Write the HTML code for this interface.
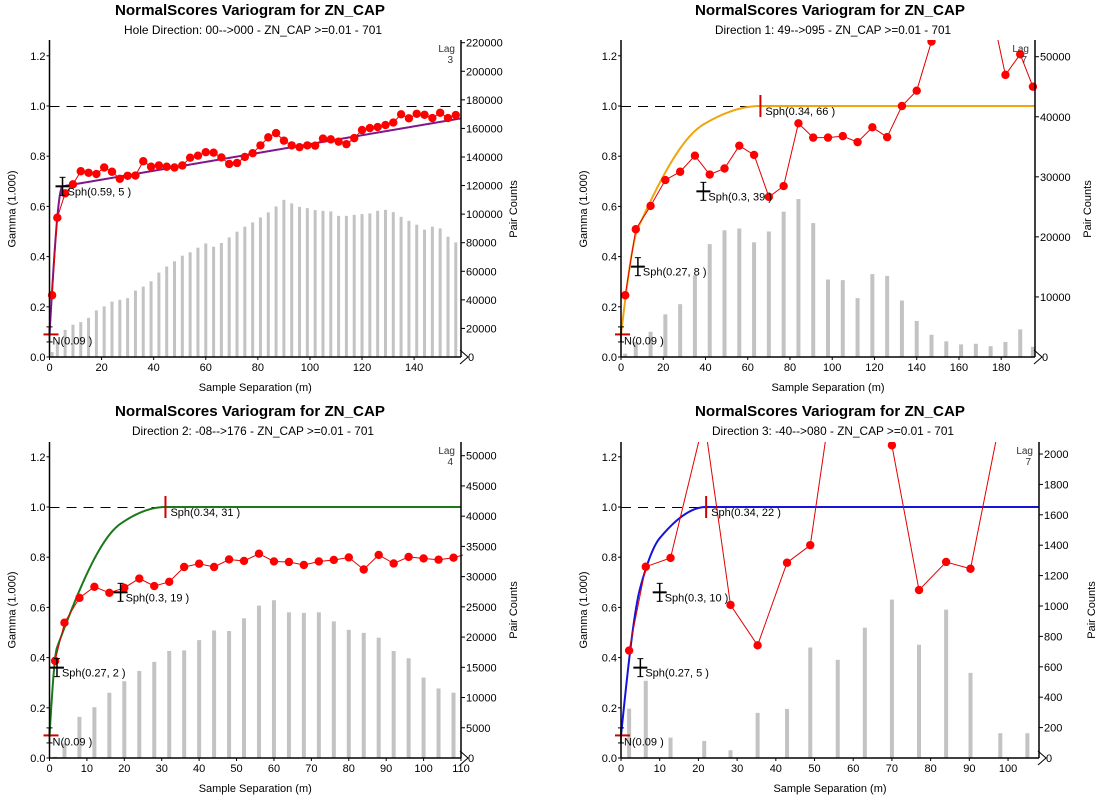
<!DOCTYPE html>
<html><head><meta charset="utf-8"><style>
html,body{margin:0;padding:0;background:#fff;}
svg{display:block;font-family:"Liberation Sans","DejaVu Sans",sans-serif;}
</style></head><body>
<svg id="chart" width="1098" height="799" viewBox="0 0 1098 799" xmlns="http://www.w3.org/2000/svg"></svg>
<script>
// ---------- data ----------
const tlLags = [1,3,6,9,12,15,18,21,24,27,30,33,36,39,42,45,48,51,54,57,60,63,66,69,72,75,78,81,84,87,90,93,96,99,102,105,108,111,114,117,120,123,126,129,132,135,138,141,144,147,150,153,156];
const tlGamma = [0.246,0.555,0.652,0.688,0.74,0.734,0.729,0.755,0.738,0.71,0.722,0.723,0.78,0.758,0.763,0.758,0.755,0.763,0.794,0.802,0.816,0.814,0.795,0.769,0.773,0.797,0.812,0.843,0.875,0.892,0.862,0.843,0.836,0.843,0.842,0.87,0.867,0.858,0.848,0.872,0.904,0.912,0.916,0.924,0.934,0.967,0.951,0.969,0.965,0.952,0.973,0.952,0.964];
const tlPairs = [3500,10500,19000,22600,24400,27400,32600,35400,38800,40000,41200,46500,49300,53000,59100,63300,67000,70900,73300,76500,79500,77200,79800,83700,87700,91200,94200,97700,101200,105400,110000,107500,105100,104200,102800,102300,101900,98800,98800,99500,100000,100500,102300,103000,101400,98100,95300,92600,89100,91200,90000,84200,80200];
const tlXTicks = [0,20,40,60,80,100,120,140];
const tlCountTicks = [0,20000,40000,60000,80000,100000,120000,140000,160000,180000,200000,220000];

const trLags = [2,7,14,21,28,35,42,49,56,63,70,77,84,91,98,105,112,119,126,133,140,147,154,161,168,175,182,189,195];
const trGamma = [0.246,0.509,0.602,0.705,0.738,0.802,0.727,0.751,0.842,0.805,0.638,0.681,0.931,0.874,0.874,0.88,0.856,0.915,0.876,1.0,1.061,1.257,1.36,1.45,1.5,1.4,1.124,1.206,1.077];
const trPairs = [550,2500,4200,7100,8800,13600,18800,21100,21400,19100,20900,24200,26300,22300,12900,12800,9800,13800,13500,9400,6000,3700,2600,2100,2200,1800,2500,4600,1700];
const trXTicks = [0,20,40,60,80,100,120,140,160,180];
const trCountTicks = [0,10000,20000,30000,40000,50000];

const blLags = [1.5,4,8,12,16,20,24,28,32,36,40,44,48,52,56,60,64,68,72,76,80,84,88,92,96,100,104,108,112];
const blGamma = [0.387,0.539,0.638,0.682,0.658,0.678,0.715,0.685,0.702,0.761,0.774,0.761,0.791,0.785,0.814,0.783,0.781,0.769,0.783,0.789,0.799,0.751,0.809,0.775,0.801,0.795,0.79,0.798,0.815];
const blPairs = [200,2400,6800,8400,10800,12700,14400,15900,17700,17800,19500,21100,21000,23100,25200,26100,24100,24000,24100,22600,21200,20700,19900,17700,16500,13300,11500,10800,0];
const blXTicks = [0,10,20,30,40,50,60,70,80,90,100,110];
const blCountTicks = [0,5000,10000,15000,20000,25000,30000,35000,40000,45000,50000];

const brLags = [2.1,6.4,12.8,21.5,28.3,35.3,42.9,48.9,56,63,70,77,84,90.3,98,105];
const brGamma = [0.428,0.762,0.797,1.35,0.61,0.449,0.778,0.848,1.6,1.8,1.246,0.669,0.781,0.754,1.35,1.5];
const brPairs = [325,508,134,112,51,297,323,727,646,857,1042,745,976,560,163,163];
const brXTicks = [0,10,20,30,40,50,60,70,80,90,100];
const brCountTicks = [0,200,400,600,800,1000,1200,1400,1600,1800,2000];

const gammaTicks = [0.0,0.2,0.4,0.6,0.8,1.0,1.2];
const nuggets = [0.09,0.09,0.09,0.09];
const tlStructs = [[0.59,5]];
const tlLinearSlope = 0.00177;
const trStructs = [[0.27,8],[0.3,39],[0.34,66]];
const blStructs = [[0.27,2],[0.3,19],[0.34,31]];
const brStructs = [[0.27,5],[0.3,10],[0.34,22]];

// ---------- drawing ----------
const NS = 'http://www.w3.org/2000/svg';
const svg = document.getElementById('chart');
function el(tag, attrs, parent){
  const e = document.createElementNS(NS, tag);
  for (const k in attrs) e.setAttribute(k, attrs[k]);
  (parent||svg).appendChild(e);
  return e;
}
function sph(c,a,h){ if(h>=a) return c; const r=h/a; return c*(1.5*r-0.5*r*r*r); }

function drawPanel(cfg){
  const g = el('g', {});
  
  
  const X = h => cfg.L + h*(cfg.R-cfg.L)/cfg.xmax;
  const YG = v => cfg.y0 - v*cfg.gs;
  const YC = c => cfg.y0 - c*(cfg.y0-cfg.cTop)/cfg.cMax;
  const clipId = 'clip-'+cfg.name;
  const cp = el('clipPath', {id:clipId}, g);
  el('rect', {x:cfg.L-8, y:cfg.top, width:cfg.R-cfg.L+10, height:cfg.y0-cfg.top+8}, cp);

  const t = el('text', {x:cfg.cx, y:cfg.titleY, 'text-anchor':'middle', 'font-size':15, 'font-weight':'bold', fill:'#000', textLength:270, lengthAdjust:'spacingAndGlyphs'}, g);
  t.textContent = 'NormalScores Variogram for ZN_CAP';
  
  
  const st = el('text', {x:cfg.cx+3, y:cfg.titleY+19, 'text-anchor':'middle', 'font-size':12, fill:'#000', textLength:cfg.subW, lengthAdjust:'spacingAndGlyphs'}, g);
  st.textContent = cfg.sub;
  
  

  cfg.lags.forEach((h,i)=>{
    const c = cfg.pairs[i]; if(!c) return;
    const r = el('rect', {x:X(h)-cfg.bw/2, y:YC(c), width:cfg.bw, height:cfg.y0-YC(c), fill:'#c3c3c3'}, g);
    
    
  });

  const sy = Math.round(YG(1))+0.5;
  const sill = el('line', {x1:cfg.L, x2:cfg.R, y1:sy, y2:sy, stroke:'#000', 'stroke-width':1, 'stroke-dasharray':'10,7'}, g);
  
  

  let d = '';
  for (let px=0; px<=cfg.R-cfg.L; px+=1){
    const h = px*cfg.xmax/(cfg.R-cfg.L);
    let v = cfg.nug;
    cfg.structs.forEach(s=>{ v += sph(s[0],s[1],h); });
    if (cfg.slope && h>cfg.structs[0][1]) v += cfg.slope*(h-cfg.structs[0][1]);
    d += (px?'L':'M') + X(h).toFixed(2)+','+YG(v).toFixed(2);
  }
  const mc = el('path', {d:d, fill:'none', stroke:cfg.color, 'stroke-width':2, 'clip-path':'url(#'+clipId+')'}, g);
  
  

  const pts = cfg.lags.map((h,i)=>X(h).toFixed(1)+','+YG(cfg.gamma[i]).toFixed(1)).join(' ');
  const pl = el('polyline', {points:pts, fill:'none', stroke:'#e00000', 'stroke-width':1, 'clip-path':'url(#'+clipId+')'}, g);
  
  
  cfg.lags.forEach((h,i)=>{
    const c = el('circle', {cx:X(h), cy:YG(cfg.gamma[i]), r:4.2, fill:'#ff0000', 'clip-path':'url(#'+clipId+')'}, g);
    
    
  });

  el('line', {x1:cfg.L-6, x2:cfg.L+9, y1:YG(cfg.nug), y2:YG(cfg.nug), stroke:'#d00000', 'stroke-width':2}, g);
  el('line', {x1:cfg.L, x2:cfg.L, y1:YG(cfg.nug-0.03), y2:YG(cfg.nug+0.03), stroke:'#000', 'stroke-width':1.5}, g);
  el('line', {x1:cfg.L-3, x2:cfg.L+3, y1:YG(cfg.nug-0.03), y2:YG(cfg.nug-0.03), stroke:'#000'}, g);
  el('line', {x1:cfg.L-3, x2:cfg.L+3, y1:YG(cfg.nug+0.03), y2:YG(cfg.nug+0.03), stroke:'#000'}, g);
  const nl = el('text', {x:cfg.L+3, y:YG(cfg.nug)+10, 'font-size':11, fill:'#000'}, g);
  nl.textContent = 'N(0.09 )';
  
  

  let cum = cfg.nug;
  cfg.structs.forEach((s,i)=>{
    cum += s[0];
    const mx = X(s[1]), my = YG(cum);
    const last = (i===cfg.structs.length-1) && !cfg.slope;
    if (last){
      el('line', {x1:mx, x2:mx, y1:my-11, y2:my+11, stroke:'#d00000', 'stroke-width':2}, g);
    } else {
      el('line', {x1:mx-7, x2:mx+7, y1:my, y2:my, stroke:'#000', 'stroke-width':2}, g);
      el('line', {x1:mx, x2:mx, y1:my-9, y2:my+9, stroke:'#000', 'stroke-width':1.5}, g);
      el('line', {x1:mx-3, x2:mx+3, y1:my-9, y2:my-9, stroke:'#000'}, g);
      el('line', {x1:mx-3, x2:mx+3, y1:my+9, y2:my+9, stroke:'#000'}, g);
    }
    const lb = el('text', {x:mx+5, y:my+9, 'font-size':11, fill:'#000'}, g);
    lb.textContent = 'Sph(' + s[0] + ', ' + s[1] + ' )';
    
    
  });

  el('line', {x1:cfg.L, x2:cfg.L, y1:cfg.top, y2:cfg.y0, stroke:'#000', 'stroke-width':1.5}, g);
  el('line', {x1:cfg.R, x2:cfg.R, y1:cfg.top, y2:cfg.y0, stroke:'#000', 'stroke-width':1.5}, g);
  el('line', {x1:cfg.L, x2:cfg.R, y1:cfg.y0, y2:cfg.y0, stroke:'#000', 'stroke-width':1.5}, g);
  el('path', {d:'M'+(cfg.R-1)+','+(cfg.y0-7)+' L'+(cfg.R+7)+','+cfg.y0+' L'+(cfg.R-1)+','+(cfg.y0+7), fill:'none', stroke:'#000', 'stroke-width':1}, g);

  gammaTicks.forEach(v=>{
    el('line', {x1:cfg.L-3, x2:cfg.L, y1:YG(v), y2:YG(v), stroke:'#000'}, g);
    const tx = el('text', {x:cfg.L-4, y:YG(v)+4, 'text-anchor':'end', 'font-size':11, fill:'#000'}, g);
    tx.textContent = v.toFixed(1);
    
    
  });
  cfg.xticks.forEach(v=>{
    el('line', {x1:X(v), x2:X(v), y1:cfg.y0, y2:cfg.y0+3, stroke:'#000'}, g);
    const tx = el('text', {x:X(v), y:cfg.y0+14, 'text-anchor':'middle', 'font-size':11, fill:'#000'}, g);
    tx.textContent = v;
    
    
  });
  cfg.cticks.forEach(v=>{
    if (v>0) el('line', {x1:cfg.R, x2:cfg.R+4, y1:YC(v), y2:YC(v), stroke:'#000'}, g);
    const tx = el('text', {x:cfg.R+(v>0?5:7), y:YC(v)+4, 'font-size':11, fill:'#000'}, g);
    tx.textContent = v;
    
    
  });

  const xl = el('text', {x:(cfg.L+cfg.R)/2, y:cfg.y0+34, 'text-anchor':'middle', 'font-size':11, fill:'#000'}, g);
  xl.textContent = 'Sample Separation (m)';
  
  
  const midY = cfg.y0-148;
  const yx = cfg.L-34;
  const yl = el('text', {x:yx, y:midY, 'text-anchor':'middle', 'font-size':11, fill:'#000', transform:'rotate(-90 '+yx+' '+midY+')'}, g);
  yl.textContent = 'Gamma (1.000)';
  
  
  const rx = cfg.R+56;
  const rl = el('text', {x:rx, y:midY, 'text-anchor':'middle', 'font-size':11, fill:'#000', transform:'rotate(-90 '+rx+' '+midY+')'}, g);
  rl.textContent = 'Pair Counts';
  
  

  const lg = el('text', {x:cfg.R-6, y:cfg.top+12, 'text-anchor':'end', 'font-size':10, fill:'#333'}, g);
  lg.textContent = 'Lag';
  
  
  const lv = el('text', {x:cfg.R-8, y:cfg.top+23, 'text-anchor':'end', 'font-size':10, fill:'#333'}, g);
  lv.textContent = cfg.lag;
  
  
}

drawPanel({name:'panel-hole-direction', L:49.5, R:461, xmax:158, y0:357, top:40, gs:251, cMax:220000, cTop:42.7,
  cx:250, titleY:15, sub:'Hole Direction: 00-->000 - ZN_CAP >=0.01 - 701', subW:258,
  lags:tlLags, gamma:tlGamma, pairs:tlPairs, xticks:tlXTicks, cticks:tlCountTicks,
  nug:nuggets[0], structs:tlStructs, slope:tlLinearSlope, color:'#80168a', bw:3, lag:'3'});
drawPanel({name:'panel-direction-1', L:621, R:1035, xmax:196, y0:357, top:40, gs:251, cMax:50000, cTop:56.7,
  cx:830, titleY:15, sub:'Direction 1: 49-->095 - ZN_CAP >=0.01 - 701', subW:236,
  lags:trLags, gamma:trGamma, pairs:trPairs, xticks:trXTicks, cticks:trCountTicks,
  nug:nuggets[1], structs:trStructs, slope:0, color:'#f0a510', bw:4, lag:'7'});
drawPanel({name:'panel-direction-2', L:49.5, R:461, xmax:110, y0:758, top:442, gs:251, cMax:50000, cTop:455.7,
  cx:250, titleY:416, sub:'Direction 2: -08-->176 - ZN_CAP >=0.01 - 701', subW:242,
  lags:blLags, gamma:blGamma, pairs:blPairs, xticks:blXTicks, cticks:blCountTicks,
  nug:nuggets[2], structs:blStructs, slope:0, color:'#1a7a1a', bw:4, lag:'4'});
drawPanel({name:'panel-direction-3', L:621, R:1039, xmax:108, y0:758, top:442, gs:251, cMax:2000, cTop:454,
  cx:830, titleY:416, sub:'Direction 3: -40-->080 - ZN_CAP >=0.01 - 701', subW:242,
  lags:brLags, gamma:brGamma, pairs:brPairs, xticks:brXTicks, cticks:brCountTicks,
  nug:nuggets[3], structs:brStructs, slope:0, color:'#1414dc', bw:4, lag:'7'});
</script>
</body></html>
